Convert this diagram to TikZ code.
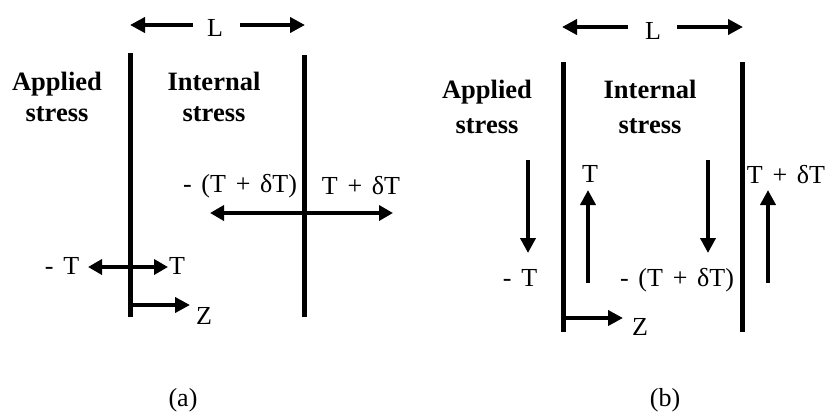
\documentclass[tikz,border=0pt]{standalone}
\usepackage{fontspec}
\setmainfont{Liberation Serif}[WordSpace=1.5]
\usetikzlibrary{arrows.meta}
\tikzset{
  bar/.style={line width=5pt},
  arr/.style={line width=4pt,-{Triangle[length=15pt,width=15pt]}},
  darr/.style={line width=4pt,{Triangle[length=14pt,width=15pt]}-{Triangle[length=14pt,width=15pt]}},
  lbl/.style={font=\fontsize{26.5}{31}\selectfont\bfseries,align=center,inner sep=0pt},
  txt/.style={font=\fontsize{26}{30}\selectfont,inner sep=0pt},
}
\begin{document}
\begin{tikzpicture}[x=1pt,y=-1pt]
\useasboundingbox (0,0) rectangle (832,413);
% ---------- (a) ----------
\node[txt] (La) at (215,28) {L};
\coordinate (La0) at (193,25); \coordinate (La1) at (130,25);
\coordinate (La3) at (240,25); \coordinate (La2) at (305,25);
\draw[arr] (La0) -- (La1);
\draw[arr] (La3) -- (La2);
\coordinate (a1t) at (130,53); \coordinate (a1b) at (130,317);
\coordinate (a2t) at (304,55); \coordinate (a2b) at (304,317);
\draw[bar] (a1t) -- (a1b);
\draw[bar] (a2t) -- (a2b);
\node[lbl] (appa) at (57,97) {Applied\\stress};
\node[lbl] (inta) at (214,97) {Internal\\stress};
\node[txt] (mTdTa) at (240,186) {- (T + δT)};
\node[txt] (TdTa) at (361,186) {T + δT};
\coordinate (ha1) at (210,213); \coordinate (ha2) at (393,213);
\draw[darr] (ha1) -- (ha2);
\node[txt] (mTa) at (62,266) {- T};
\node[txt] (Ta) at (177,266) {T};
\coordinate (ta1) at (88,267); \coordinate (ta2) at (168,267);
\draw[darr] (ta1) -- (ta2);
\coordinate (za0) at (128,305); \coordinate (za1) at (190,305);
\node[txt] (Za) at (204,316) {Z};
\draw[arr] (za0) -- (za1);
\node[txt] (capa) at (183,400) {(a)};
% ---------- (b) ----------
\node[txt] (Lb) at (653,31) {L};
\coordinate (Lb0) at (628,27); \coordinate (Lb1) at (562,27);
\coordinate (Lb3) at (677,27); \coordinate (Lb2) at (743,27);
\draw[arr] (Lb0) -- (Lb1);
\draw[arr] (Lb3) -- (Lb2);
\coordinate (b1t) at (563,62); \coordinate (b1b) at (563,332);
\coordinate (b2t) at (742,62); \coordinate (b2b) at (742,332);
\draw[bar] (b1t) -- (b1b);
\draw[bar] (b2t) -- (b2b);
\node[lbl,font=\fontsize{26.5}{35}\selectfont\bfseries] (appb) at (487,107) {Applied\\stress};
\node[lbl,font=\fontsize{26.5}{35}\selectfont\bfseries] (intb) at (650,107) {Internal\\stress};
\coordinate (d1s) at (528,160); \coordinate (d1e) at (528,253);
\coordinate (d2s) at (708,160); \coordinate (d2e) at (708,253);
\draw[arr] (d1s) -- (d1e);
\draw[arr] (d2s) -- (d2e);
\coordinate (u1s) at (588,283); \coordinate (u1e) at (588,190);
\coordinate (u2s) at (768,283); \coordinate (u2e) at (768,190);
\draw[arr] (u1s) -- (u1e);
\draw[arr] (u2s) -- (u2e);
\node[txt] (Tb) at (590,174) {T};
\node[txt] (TdTb) at (786,175) {T + δT};
\node[txt] (mTb) at (520,278) {- T};
\node[txt] (mTdTb) at (677,280) {- (T + δT)};
\coordinate (zb0) at (563,318); \coordinate (zb1) at (623,318);
\node[txt] (Zb) at (640,327) {Z};
\draw[arr] (zb0) -- (zb1);
\node[txt] (capb) at (665,400) {(b)};
\end{tikzpicture}
\end{document}
